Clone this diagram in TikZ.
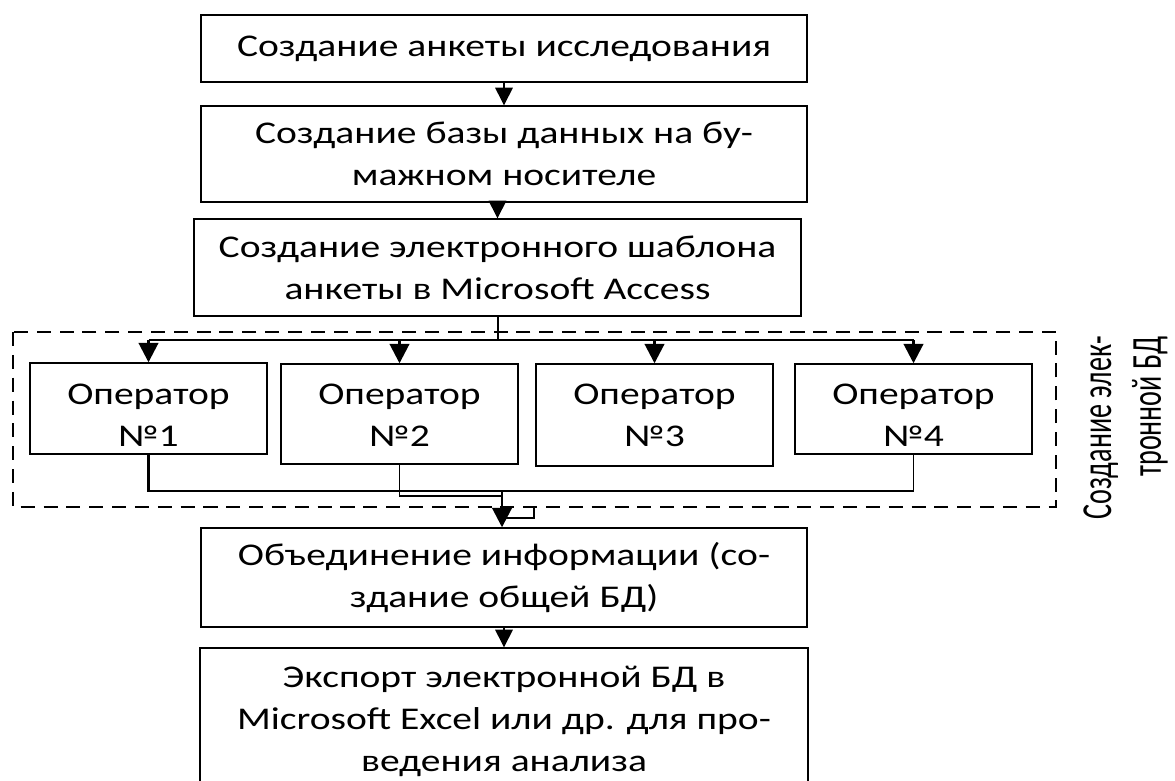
\documentclass[tikz,border=0pt]{standalone}
\usepackage{fontspec}
\usepackage{graphicx}
\setmainfont{Carlito}[FakeStretch=1.25]
\newfontfamily\sidefont{Carlito}
\usetikzlibrary{arrows.meta}

\newcommand\pxu{0.02cm}
\newcommand\mainsz{\fontsize{18pt}{23.9pt}\selectfont}
\newcommand\sidesz{\fontsize{18pt}{21pt}\selectfont}

\tikzset{
  box/.style={draw, line width=0.8pt, inner sep=0pt, align=center, font=\mainsz},
  lbl/.style={inner sep=0pt, align=center, font=\mainsz},
  thn/.style={line width=0.8pt},
  thk/.style={line width=1.6pt},
  arr/.style={-{Triangle[length=10pt,width=10pt]}},
  bigarr/.style={-{Triangle[length=11pt,width=11pt]}},
  frame/.style={line width=0.75pt, dash pattern=on 8pt off 5pt}
}

\begin{document}
\begin{tikzpicture}[x=\pxu, y=-\pxu]
  \clip (0,0) rectangle (1175,780);

  % main chain of steps
  \node[box, minimum width=606*\pxu, minimum height=67*\pxu] (b1) at (504,48.5)
    {Создание анкеты исследования};
  \node[box, minimum width=606*\pxu, minimum height=96*\pxu] (b2) at (504,154)
    {Создание базы данных на бу-\\мажном носителе};
  \node[box, minimum width=607*\pxu, minimum height=97*\pxu] (b3) at (497.5,267.5)
    {Создание электронного шаблона\\анкеты в Microsoft Access};

  % operators
  \node[box, minimum width=237*\pxu, minimum height=91*\pxu]  (op1) at (148.5,408.5) {};
  \node[box, minimum width=237*\pxu, minimum height=100*\pxu] (op2) at (399.5,414) {};
  \node[box, minimum width=237*\pxu, minimum height=102*\pxu] (op3) at (654.5,415) {};
  \node[box, minimum width=237*\pxu, minimum height=90*\pxu]  (op4) at (913.5,409) {};
  \node[lbl] (t1) at (148.5,415) {Оператор\\№1};
  \node[lbl] (t2) at (399.5,415) {Оператор\\№2};
  \node[lbl] (t3) at (654.5,415) {Оператор\\№3};
  \node[lbl] (t4) at (913.5,415) {Оператор\\№4};

  \node[box, minimum width=606*\pxu, minimum height=99*\pxu] (b5) at (504,577.5)
    {Объединение информации (со-\\здание общей БД)};
  \node[box, minimum width=608*\pxu, minimum height=146*\pxu] (b6) at (504,721)
    {Экспорт электронной БД в\\Microsoft Excel или др. для про-\\ведения анализа};

  % dashed group and its caption
  \coordinate (fa) at (13,332);
  \coordinate (fb) at (1056,507);
  \draw[frame] (fa) rectangle (fb);
  \node[anchor=north, inner sep=0pt] (side) at (1126,336)
    {\rotatebox{90}{\scalebox{0.89}[1.35]{\sidefont\sidesz
      \begin{tabular}{@{}r@{}}Создание элек-\\тронной БД\end{tabular}}}};

  % connectors
  \draw[thn, arr] (b1.south) -- (b2.north);
  \draw[thn, arr] (b3.north |- b2.south) -- (b3.north);

  \coordinate (bus) at (498,340);
  \draw[thk] (b3.south -| bus) -- (bus);
  \draw[thk] (op1.north |- bus) -- (op4.north |- bus);
  \foreach \o in {op1,op2,op3,op4}
    \draw[thk, bigarr] (\o.north |- bus) -- (\o.north);

  \coordinate (m) at (502,491);
  \coordinate (m2) at (502,496);
  \draw[thk] (op1.south) |- (m);
  \draw[thn] (op2.south) |- (m2);
  \draw[thn] (op4.south) |- (m);
  \draw[thk, bigarr] (m) -- (m |- b5.north);
  \coordinate (h1) at (502,518);
  \coordinate (h2) at (534,518);
  \coordinate (h3) at (534,507);
  \draw[thn] (h1) -- (h2) -- (h3);

  \draw[thn, arr] (b5.south) -- (b6.north);
\end{tikzpicture}
\end{document}
